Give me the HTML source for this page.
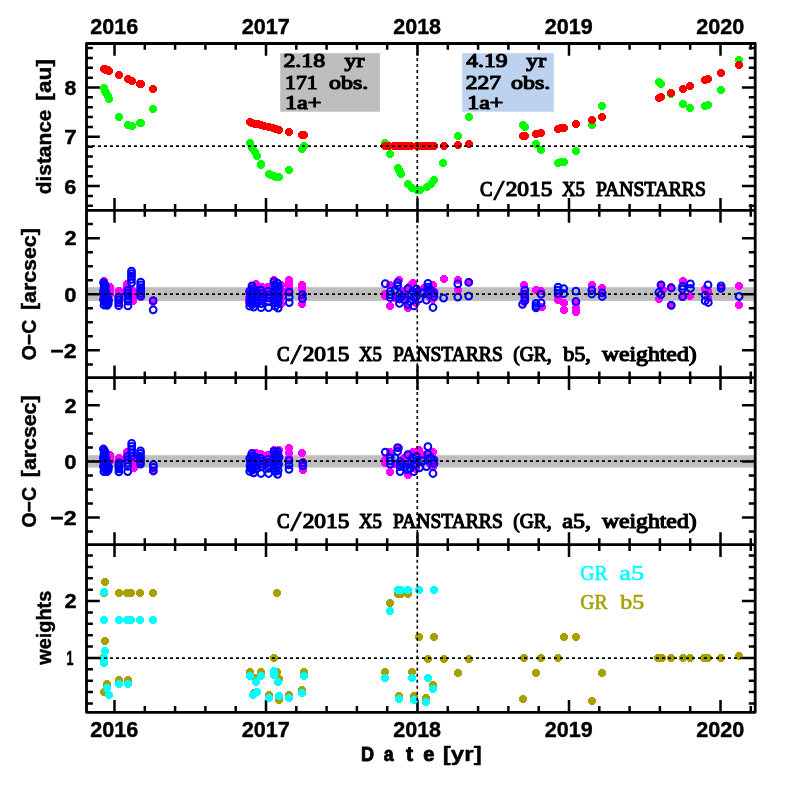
<!DOCTYPE html>
<html lang="en"><head><meta charset="utf-8"><title>C/2015 X5 PANSTARRS</title>
<style>html,body{margin:0;padding:0;background:#fff;overflow:hidden}svg{display:block}text{white-space:pre}.s{font-family:"Liberation Sans",sans-serif;font-weight:bold;fill:#000;stroke-linejoin:round}.r{font-family:"Liberation Serif",serif;font-weight:normal;fill:#000;stroke-linejoin:round}.m{font-family:"Liberation Mono",monospace;font-weight:bold;fill:#000}.l{font-family:"Liberation Serif",serif;font-weight:normal;stroke-linejoin:round}</style></head><body>
<svg width="797" height="797" viewBox="0 0 797 797">
<rect width="797" height="797" fill="#fff"/>
<rect x="86.5" y="287.2" width="668.7" height="13.7" fill="#bebebe"/>
<rect x="86.5" y="455.2" width="668.7" height="12.3" fill="#bebebe"/>
<rect x="280.2" y="53.2" width="99.7" height="58.5" fill="#bebebe"/>
<rect x="462.2" y="53.2" width="91.6" height="58.5" fill="#bcd2ee"/>
<path d="M86.5 43.5H755.2V210.35H86.5ZM86.5 210.35H755.2V377.7H86.5ZM86.5 377.7H755.2V544.6H86.5ZM86.5 544.6H755.2V712.3H86.5Z" fill="none" stroke="#000" stroke-width="2.8" stroke-linejoin="round"/>
<path d="M114.5 43.5v12.3M114.5 210.35v-12.3M114.5 210.35v12.3M114.5 377.7v-12.3M114.5 377.7v12.3M114.5 544.6v-12.3M114.5 544.6v12.3M114.5 712.3v-12.3M144.8 43.5v6.3M144.8 210.35v-6.3M144.8 210.35v6.3M144.8 377.7v-6.3M144.8 377.7v6.3M144.8 544.6v-6.3M144.8 544.6v6.3M144.8 712.3v-6.3M175.1 43.5v6.3M175.1 210.35v-6.3M175.1 210.35v6.3M175.1 377.7v-6.3M175.1 377.7v6.3M175.1 544.6v-6.3M175.1 544.6v6.3M175.1 712.3v-6.3M205.4 43.5v6.3M205.4 210.35v-6.3M205.4 210.35v6.3M205.4 377.7v-6.3M205.4 377.7v6.3M205.4 544.6v-6.3M205.4 544.6v6.3M205.4 712.3v-6.3M235.7 43.5v6.3M235.7 210.35v-6.3M235.7 210.35v6.3M235.7 377.7v-6.3M235.7 377.7v6.3M235.7 544.6v-6.3M235.7 544.6v6.3M235.7 712.3v-6.3M266 43.5v12.3M266 210.35v-12.3M266 210.35v12.3M266 377.7v-12.3M266 377.7v12.3M266 544.6v-12.3M266 544.6v12.3M266 712.3v-12.3M296.3 43.5v6.3M296.3 210.35v-6.3M296.3 210.35v6.3M296.3 377.7v-6.3M296.3 377.7v6.3M296.3 544.6v-6.3M296.3 544.6v6.3M296.3 712.3v-6.3M326.6 43.5v6.3M326.6 210.35v-6.3M326.6 210.35v6.3M326.6 377.7v-6.3M326.6 377.7v6.3M326.6 544.6v-6.3M326.6 544.6v6.3M326.6 712.3v-6.3M356.9 43.5v6.3M356.9 210.35v-6.3M356.9 210.35v6.3M356.9 377.7v-6.3M356.9 377.7v6.3M356.9 544.6v-6.3M356.9 544.6v6.3M356.9 712.3v-6.3M387.2 43.5v6.3M387.2 210.35v-6.3M387.2 210.35v6.3M387.2 377.7v-6.3M387.2 377.7v6.3M387.2 544.6v-6.3M387.2 544.6v6.3M387.2 712.3v-6.3M417.5 43.5v12.3M417.5 210.35v-12.3M417.5 210.35v12.3M417.5 377.7v-12.3M417.5 377.7v12.3M417.5 544.6v-12.3M417.5 544.6v12.3M417.5 712.3v-12.3M447.8 43.5v6.3M447.8 210.35v-6.3M447.8 210.35v6.3M447.8 377.7v-6.3M447.8 377.7v6.3M447.8 544.6v-6.3M447.8 544.6v6.3M447.8 712.3v-6.3M478.1 43.5v6.3M478.1 210.35v-6.3M478.1 210.35v6.3M478.1 377.7v-6.3M478.1 377.7v6.3M478.1 544.6v-6.3M478.1 544.6v6.3M478.1 712.3v-6.3M508.4 43.5v6.3M508.4 210.35v-6.3M508.4 210.35v6.3M508.4 377.7v-6.3M508.4 377.7v6.3M508.4 544.6v-6.3M508.4 544.6v6.3M508.4 712.3v-6.3M538.7 43.5v6.3M538.7 210.35v-6.3M538.7 210.35v6.3M538.7 377.7v-6.3M538.7 377.7v6.3M538.7 544.6v-6.3M538.7 544.6v6.3M538.7 712.3v-6.3M569 43.5v12.3M569 210.35v-12.3M569 210.35v12.3M569 377.7v-12.3M569 377.7v12.3M569 544.6v-12.3M569 544.6v12.3M569 712.3v-12.3M599.3 43.5v6.3M599.3 210.35v-6.3M599.3 210.35v6.3M599.3 377.7v-6.3M599.3 377.7v6.3M599.3 544.6v-6.3M599.3 544.6v6.3M599.3 712.3v-6.3M629.6 43.5v6.3M629.6 210.35v-6.3M629.6 210.35v6.3M629.6 377.7v-6.3M629.6 377.7v6.3M629.6 544.6v-6.3M629.6 544.6v6.3M629.6 712.3v-6.3M659.9 43.5v6.3M659.9 210.35v-6.3M659.9 210.35v6.3M659.9 377.7v-6.3M659.9 377.7v6.3M659.9 544.6v-6.3M659.9 544.6v6.3M659.9 712.3v-6.3M690.2 43.5v6.3M690.2 210.35v-6.3M690.2 210.35v6.3M690.2 377.7v-6.3M690.2 377.7v6.3M690.2 544.6v-6.3M690.2 544.6v6.3M690.2 712.3v-6.3M720.5 43.5v12.3M720.5 210.35v-12.3M720.5 210.35v12.3M720.5 377.7v-12.3M720.5 377.7v12.3M720.5 544.6v-12.3M720.5 544.6v12.3M720.5 712.3v-12.3M750.8 43.5v6.3M750.8 210.35v-6.3M750.8 210.35v6.3M750.8 377.7v-6.3M750.8 377.7v6.3M750.8 544.6v-6.3M750.8 544.6v6.3M750.8 712.3v-6.3M86.5 205.82h6.4M755.2 205.82h-6.4M86.5 195.96h6.4M755.2 195.96h-6.4M86.5 186.1h13.3M755.2 186.1h-13.3M86.5 176.24h6.4M755.2 176.24h-6.4M86.5 166.38h6.4M755.2 166.38h-6.4M86.5 156.52h6.4M755.2 156.52h-6.4M86.5 146.66h6.4M755.2 146.66h-6.4M86.5 136.8h13.3M755.2 136.8h-13.3M86.5 126.94h6.4M755.2 126.94h-6.4M86.5 117.08h6.4M755.2 117.08h-6.4M86.5 107.22h6.4M755.2 107.22h-6.4M86.5 97.36h6.4M755.2 97.36h-6.4M86.5 87.5h13.3M755.2 87.5h-13.3M86.5 77.64h6.4M755.2 77.64h-6.4M86.5 67.78h6.4M755.2 67.78h-6.4M86.5 57.92h6.4M755.2 57.92h-6.4M86.5 48.06h6.4M755.2 48.06h-6.4M86.5 364.38h6.4M755.2 364.38h-6.4M86.5 350.35h13.3M755.2 350.35h-13.3M86.5 336.32h6.4M755.2 336.32h-6.4M86.5 322.3h6.4M755.2 322.3h-6.4M86.5 308.27h6.4M755.2 308.27h-6.4M86.5 294.25h13.3M755.2 294.25h-13.3M86.5 280.23h6.4M755.2 280.23h-6.4M86.5 266.2h6.4M755.2 266.2h-6.4M86.5 252.18h6.4M755.2 252.18h-6.4M86.5 238.15h13.3M755.2 238.15h-13.3M86.5 224.12h6.4M755.2 224.12h-6.4M86.5 531.58h6.4M755.2 531.58h-6.4M86.5 517.55h13.3M755.2 517.55h-13.3M86.5 503.52h6.4M755.2 503.52h-6.4M86.5 489.5h6.4M755.2 489.5h-6.4M86.5 475.47h6.4M755.2 475.47h-6.4M86.5 461.45h13.3M755.2 461.45h-13.3M86.5 447.43h6.4M755.2 447.43h-6.4M86.5 433.4h6.4M755.2 433.4h-6.4M86.5 419.38h6.4M755.2 419.38h-6.4M86.5 405.35h13.3M755.2 405.35h-13.3M86.5 391.32h6.4M755.2 391.32h-6.4M86.5 703.38h6.4M755.2 703.38h-6.4M86.5 692.01h6.4M755.2 692.01h-6.4M86.5 680.64h6.4M755.2 680.64h-6.4M86.5 669.27h6.4M755.2 669.27h-6.4M86.5 657.9h13.3M755.2 657.9h-13.3M86.5 646.53h6.4M755.2 646.53h-6.4M86.5 635.16h6.4M755.2 635.16h-6.4M86.5 623.79h6.4M755.2 623.79h-6.4M86.5 612.42h6.4M755.2 612.42h-6.4M86.5 601.05h13.3M755.2 601.05h-13.3M86.5 589.68h6.4M755.2 589.68h-6.4M86.5 578.31h6.4M755.2 578.31h-6.4M86.5 566.94h6.4M755.2 566.94h-6.4M86.5 555.57h6.4M755.2 555.57h-6.4" fill="none" stroke="#000" stroke-width="2.5"/>
<g fill="#00ff00" shape-rendering="crispEdges"><circle cx="561" cy="162" r="4.0"/><circle cx="141" cy="123" r="4.0"/><circle cx="261" cy="165" r="4.0"/><circle cx="271" cy="175" r="4.0"/><circle cx="276" cy="177" r="4.0"/><circle cx="104" cy="88" r="4.0"/><circle cx="105" cy="91" r="4.0"/><circle cx="106" cy="93" r="4.0"/><circle cx="108" cy="96" r="4.0"/><circle cx="109" cy="99" r="4.0"/><circle cx="119" cy="117" r="4.0"/><circle cx="128" cy="125" r="4.0"/><circle cx="132" cy="126" r="4.0"/><circle cx="140" cy="123" r="4.0"/><circle cx="153" cy="109" r="4.0"/><circle cx="250" cy="143" r="4.0"/><circle cx="252" cy="148" r="4.0"/><circle cx="255" cy="152" r="4.0"/><circle cx="257" cy="156" r="4.0"/><circle cx="261" cy="164" r="4.0"/><circle cx="269" cy="174" r="4.0"/><circle cx="274" cy="176" r="4.0"/><circle cx="279" cy="177" r="4.0"/><circle cx="289" cy="170" r="4.0"/><circle cx="302" cy="149" r="4.0"/><circle cx="304" cy="146" r="4.0"/><circle cx="385" cy="143" r="4.0"/><circle cx="390" cy="154" r="4.0"/><circle cx="398" cy="168" r="4.0"/><circle cx="399" cy="170" r="4.0"/><circle cx="400" cy="172" r="4.0"/><circle cx="401" cy="174" r="4.0"/><circle cx="408" cy="184" r="4.0"/><circle cx="412" cy="188" r="4.0"/><circle cx="417" cy="190" r="4.0"/><circle cx="420" cy="190" r="4.0"/><circle cx="427" cy="187" r="4.0"/><circle cx="431" cy="184" r="4.0"/><circle cx="434" cy="180" r="4.0"/><circle cx="443" cy="163" r="4.0"/><circle cx="458" cy="136" r="4.0"/><circle cx="469" cy="117" r="4.0"/><circle cx="523" cy="125" r="4.0"/><circle cx="525" cy="127" r="4.0"/><circle cx="536" cy="144" r="4.0"/><circle cx="541" cy="150" r="4.0"/><circle cx="558" cy="163" r="4.0"/><circle cx="564" cy="162" r="4.0"/><circle cx="576" cy="151" r="4.0"/><circle cx="592" cy="125" r="4.0"/><circle cx="602" cy="106" r="4.0"/><circle cx="659" cy="82" r="4.0"/><circle cx="661" cy="84" r="4.0"/><circle cx="671" cy="94" r="4.0"/><circle cx="683" cy="104" r="4.0"/><circle cx="690" cy="108" r="4.0"/><circle cx="705" cy="106" r="4.0"/><circle cx="708" cy="105" r="4.0"/><circle cx="721" cy="90" r="4.0"/><circle cx="739" cy="60" r="4.0"/></g>
<g fill="#ff0000" shape-rendering="crispEdges"><circle cx="561" cy="128" r="4.0"/><circle cx="394" cy="146" r="4.0"/><circle cx="404" cy="146" r="4.0"/><circle cx="424" cy="146" r="4.0"/><circle cx="141" cy="84" r="4.0"/><circle cx="264" cy="126" r="4.0"/><circle cx="276" cy="129" r="4.0"/><circle cx="104" cy="69" r="4.0"/><circle cx="105" cy="69" r="4.0"/><circle cx="106" cy="70" r="4.0"/><circle cx="108" cy="70" r="4.0"/><circle cx="109" cy="71" r="4.0"/><circle cx="119" cy="75" r="4.0"/><circle cx="128" cy="79" r="4.0"/><circle cx="132" cy="81" r="4.0"/><circle cx="140" cy="84" r="4.0"/><circle cx="153" cy="89" r="4.0"/><circle cx="250" cy="122" r="4.0"/><circle cx="252" cy="123" r="4.0"/><circle cx="255" cy="124" r="4.0"/><circle cx="258" cy="124" r="4.0"/><circle cx="261" cy="125" r="4.0"/><circle cx="269" cy="127" r="4.0"/><circle cx="273" cy="128" r="4.0"/><circle cx="279" cy="130" r="4.0"/><circle cx="289" cy="132" r="4.0"/><circle cx="302" cy="135" r="4.0"/><circle cx="304" cy="135" r="4.0"/><circle cx="385" cy="146" r="4.0"/><circle cx="389" cy="146" r="4.0"/><circle cx="398" cy="146" r="4.0"/><circle cx="401" cy="146" r="4.0"/><circle cx="408" cy="146" r="4.0"/><circle cx="411" cy="146" r="4.0"/><circle cx="417" cy="146" r="4.0"/><circle cx="420" cy="146" r="4.0"/><circle cx="427" cy="146" r="4.0"/><circle cx="431" cy="146" r="4.0"/><circle cx="434" cy="146" r="4.0"/><circle cx="444" cy="146" r="4.0"/><circle cx="458" cy="145" r="4.0"/><circle cx="469" cy="144" r="4.0"/><circle cx="523" cy="136" r="4.0"/><circle cx="525" cy="136" r="4.0"/><circle cx="536" cy="134" r="4.0"/><circle cx="541" cy="133" r="4.0"/><circle cx="558" cy="129" r="4.0"/><circle cx="564" cy="128" r="4.0"/><circle cx="576" cy="124" r="4.0"/><circle cx="592" cy="120" r="4.0"/><circle cx="602" cy="117" r="4.0"/><circle cx="659" cy="98" r="4.0"/><circle cx="661" cy="97" r="4.0"/><circle cx="671" cy="93" r="4.0"/><circle cx="683" cy="89" r="4.0"/><circle cx="690" cy="86" r="4.0"/><circle cx="705" cy="80" r="4.0"/><circle cx="708" cy="79" r="4.0"/><circle cx="721" cy="73" r="4.0"/><circle cx="739" cy="65" r="4.0"/></g>
<g fill="#ff00ff" shape-rendering="crispEdges"><circle cx="104" cy="281" r="4.0"/><circle cx="105" cy="284" r="4.0"/><circle cx="105" cy="288" r="4.0"/><circle cx="104" cy="292" r="4.0"/><circle cx="105" cy="295" r="4.0"/><circle cx="104" cy="299" r="4.0"/><circle cx="105" cy="302" r="4.0"/><circle cx="110" cy="287" r="4.0"/><circle cx="110" cy="290" r="4.0"/><circle cx="110" cy="294" r="4.0"/><circle cx="119" cy="291" r="4.0"/><circle cx="119" cy="295" r="4.0"/><circle cx="119" cy="299" r="4.0"/><circle cx="119" cy="303" r="4.0"/><circle cx="127" cy="284" r="4.0"/><circle cx="127" cy="287" r="4.0"/><circle cx="127" cy="291" r="4.0"/><circle cx="133" cy="291" r="4.0"/><circle cx="133" cy="294" r="4.0"/><circle cx="133" cy="297" r="4.0"/><circle cx="133" cy="301" r="4.0"/><circle cx="141" cy="288" r="4.0"/><circle cx="141" cy="291" r="4.0"/><circle cx="141" cy="294" r="4.0"/><circle cx="141" cy="297" r="4.0"/><circle cx="153" cy="302" r="4.0"/></g>
<g fill="none" stroke="#0000ff" stroke-width="2.0"><circle cx="103.5" cy="282.6" r="3.4"/><circle cx="104.5" cy="284.3" r="3.4"/><circle cx="105.5" cy="286" r="3.4"/><circle cx="104" cy="287.8" r="3.4"/><circle cx="105" cy="289.5" r="3.4"/><circle cx="103.5" cy="291.2" r="3.4"/><circle cx="104.5" cy="292.9" r="3.4"/><circle cx="105.5" cy="294.7" r="3.4"/><circle cx="104" cy="296.4" r="3.4"/><circle cx="105" cy="298.1" r="3.4"/><circle cx="103.5" cy="299.8" r="3.4"/><circle cx="104.5" cy="301.6" r="3.4"/><circle cx="105.5" cy="303.3" r="3.4"/><circle cx="104" cy="305" r="3.4"/><circle cx="107" cy="297.1" r="3.4"/><circle cx="107.8" cy="298.8" r="3.4"/><circle cx="108.6" cy="300.4" r="3.4"/><circle cx="107.4" cy="302.1" r="3.4"/><circle cx="108.2" cy="303.7" r="3.4"/><circle cx="107" cy="305.4" r="3.4"/><circle cx="105.8" cy="291.1" r="3.4"/><circle cx="106.3" cy="294.1" r="3.4"/><circle cx="106.8" cy="297.1" r="3.4"/><circle cx="118.7" cy="297.1" r="3.4"/><circle cx="118.7" cy="300" r="3.4"/><circle cx="118.7" cy="302.8" r="3.4"/><circle cx="118.7" cy="305.7" r="3.4"/><circle cx="127.9" cy="290.1" r="3.4"/><circle cx="127.9" cy="292.9" r="3.4"/><circle cx="127.9" cy="295.6" r="3.4"/><circle cx="127.9" cy="298.4" r="3.4"/><circle cx="127.9" cy="301.1" r="3.4"/><circle cx="127.9" cy="305.9" r="3.4"/><circle cx="131.5" cy="271.2" r="3.4"/><circle cx="131.5" cy="273.7" r="3.4"/><circle cx="131.5" cy="276.2" r="3.4"/><circle cx="131.5" cy="279.3" r="3.4"/><circle cx="131.5" cy="282.8" r="3.4"/><circle cx="140.7" cy="282.1" r="3.4"/><circle cx="140.7" cy="284.9" r="3.4"/><circle cx="140.7" cy="287.7" r="3.4"/><circle cx="140.7" cy="290.6" r="3.4"/><circle cx="140.7" cy="293.4" r="3.4"/><circle cx="140.7" cy="296.2" r="3.4"/><circle cx="153.2" cy="300.6" r="3.4"/><circle cx="153.2" cy="309.8" r="3.4"/></g>
<g fill="#ff00ff" shape-rendering="crispEdges"><circle cx="249" cy="293" r="4.0"/><circle cx="249" cy="298" r="4.0"/><circle cx="249" cy="302" r="4.0"/><circle cx="252" cy="286" r="4.0"/><circle cx="252" cy="291" r="4.0"/><circle cx="252" cy="296" r="4.0"/><circle cx="252" cy="300" r="4.0"/><circle cx="252" cy="305" r="4.0"/><circle cx="256" cy="284" r="4.0"/><circle cx="256" cy="289" r="4.0"/><circle cx="256" cy="293" r="4.0"/><circle cx="256" cy="298" r="4.0"/><circle cx="256" cy="302" r="4.0"/><circle cx="262" cy="287" r="4.0"/><circle cx="262" cy="291" r="4.0"/><circle cx="262" cy="296" r="4.0"/><circle cx="262" cy="301" r="4.0"/><circle cx="268" cy="287" r="4.0"/><circle cx="268" cy="291" r="4.0"/><circle cx="268" cy="294" r="4.0"/><circle cx="268" cy="298" r="4.0"/><circle cx="274" cy="280" r="4.0"/><circle cx="274" cy="284" r="4.0"/><circle cx="274" cy="288" r="4.0"/><circle cx="274" cy="293" r="4.0"/><circle cx="274" cy="297" r="4.0"/><circle cx="281" cy="285" r="4.0"/><circle cx="281" cy="290" r="4.0"/><circle cx="281" cy="294" r="4.0"/><circle cx="281" cy="299" r="4.0"/><circle cx="281" cy="304" r="4.0"/><circle cx="289" cy="280" r="4.0"/><circle cx="289" cy="284" r="4.0"/><circle cx="289" cy="288" r="4.0"/><circle cx="289" cy="292" r="4.0"/><circle cx="302" cy="285" r="4.0"/><circle cx="302" cy="289" r="4.0"/><circle cx="302" cy="294" r="4.0"/><circle cx="302" cy="298" r="4.0"/><circle cx="302" cy="304" r="4.0"/></g>
<g fill="none" stroke="#0000ff" stroke-width="2.0"><circle cx="249.7" cy="291.1" r="3.4"/><circle cx="250.3" cy="294.1" r="3.4"/><circle cx="250.9" cy="297.1" r="3.4"/><circle cx="250" cy="300.1" r="3.4"/><circle cx="250.6" cy="303.1" r="3.4"/><circle cx="249.7" cy="306.1" r="3.4"/><circle cx="252" cy="285.8" r="3.4"/><circle cx="252.8" cy="288.8" r="3.4"/><circle cx="253.6" cy="291.9" r="3.4"/><circle cx="252.4" cy="294.9" r="3.4"/><circle cx="253.2" cy="298" r="3.4"/><circle cx="252" cy="301" r="3.4"/><circle cx="252.8" cy="304.1" r="3.4"/><circle cx="253.6" cy="307.1" r="3.4"/><circle cx="255.7" cy="290.1" r="3.4"/><circle cx="256.5" cy="293.4" r="3.4"/><circle cx="257.3" cy="296.6" r="3.4"/><circle cx="256.1" cy="299.9" r="3.4"/><circle cx="256.9" cy="303.1" r="3.4"/><circle cx="260.7" cy="290.1" r="3.4"/><circle cx="261.3" cy="293.3" r="3.4"/><circle cx="261.9" cy="296.4" r="3.4"/><circle cx="261" cy="299.6" r="3.4"/><circle cx="261.1" cy="303.6" r="3.4"/><circle cx="261.1" cy="307.7" r="3.4"/><circle cx="268" cy="291.1" r="3.4"/><circle cx="268.6" cy="294.6" r="3.4"/><circle cx="269.2" cy="298.1" r="3.4"/><circle cx="268.6" cy="301.6" r="3.4"/><circle cx="268.6" cy="307.7" r="3.4"/><circle cx="273.9" cy="281.6" r="3.4"/><circle cx="274.7" cy="285.1" r="3.4"/><circle cx="275.5" cy="288.6" r="3.4"/><circle cx="274.3" cy="292.1" r="3.4"/><circle cx="275.1" cy="295.6" r="3.4"/><circle cx="273.9" cy="299.1" r="3.4"/><circle cx="274.7" cy="302.6" r="3.4"/><circle cx="275.5" cy="306.1" r="3.4"/><circle cx="277.4" cy="283.1" r="3.4"/><circle cx="278.2" cy="286.4" r="3.4"/><circle cx="279" cy="289.8" r="3.4"/><circle cx="277.8" cy="293.1" r="3.4"/><circle cx="278.6" cy="296.4" r="3.4"/><circle cx="277.4" cy="299.8" r="3.4"/><circle cx="278.2" cy="303.1" r="3.4"/><circle cx="278.2" cy="308.1" r="3.4"/><circle cx="289.2" cy="292.1" r="3.4"/><circle cx="289.2" cy="297.1" r="3.4"/><circle cx="289.2" cy="302.6" r="3.4"/><circle cx="302.5" cy="294.6" r="3.4"/><circle cx="302.5" cy="298.6" r="3.4"/></g>
<g fill="#ff00ff" shape-rendering="crispEdges"><circle cx="385" cy="294" r="4.0"/><circle cx="385" cy="296" r="4.0"/><circle cx="390" cy="285" r="4.0"/><circle cx="390" cy="306" r="4.0"/><circle cx="399" cy="280" r="4.0"/><circle cx="400" cy="298" r="4.0"/><circle cx="408" cy="308" r="4.0"/><circle cx="413" cy="283" r="4.0"/><circle cx="419" cy="290" r="4.0"/><circle cx="406" cy="298" r="4.0"/><circle cx="428" cy="289" r="4.0"/><circle cx="433" cy="285" r="4.0"/><circle cx="433" cy="299" r="4.0"/><circle cx="434" cy="291" r="4.0"/><circle cx="444" cy="279" r="4.0"/><circle cx="458" cy="280" r="4.0"/><circle cx="458" cy="290" r="4.0"/><circle cx="469" cy="282" r="4.0"/><circle cx="395" cy="298" r="4.0"/><circle cx="404" cy="291" r="4.0"/><circle cx="410" cy="286" r="4.0"/><circle cx="416" cy="303" r="4.0"/><circle cx="424" cy="288" r="4.0"/><circle cx="430" cy="298" r="4.0"/></g>
<g fill="none" stroke="#0000ff" stroke-width="2.0"><circle cx="395.1" cy="290.2" r="3.4"/><circle cx="402" cy="296.5" r="3.4"/><circle cx="405.1" cy="300.2" r="3.4"/><circle cx="410.1" cy="301.5" r="3.4"/><circle cx="416.4" cy="289" r="3.4"/><circle cx="416.4" cy="296.5" r="3.4"/><circle cx="423.3" cy="292.7" r="3.4"/><circle cx="427.7" cy="291.5" r="3.4"/><circle cx="430.8" cy="290.2" r="3.4"/><circle cx="434" cy="296.5" r="3.4"/><circle cx="385.3" cy="283.7" r="3.4"/><circle cx="390.3" cy="291.5" r="3.4"/><circle cx="390.3" cy="294.6" r="3.4"/><circle cx="390.3" cy="297.7" r="3.4"/><circle cx="397.6" cy="282.7" r="3.4"/><circle cx="397.6" cy="285.8" r="3.4"/><circle cx="399.5" cy="294" r="3.4"/><circle cx="399.5" cy="299" r="3.4"/><circle cx="399.5" cy="303.4" r="3.4"/><circle cx="407.9" cy="288.7" r="3.4"/><circle cx="407.9" cy="304.6" r="3.4"/><circle cx="411.4" cy="294.6" r="3.4"/><circle cx="412.6" cy="291.5" r="3.4"/><circle cx="413.9" cy="297.7" r="3.4"/><circle cx="413.9" cy="305.9" r="3.4"/><circle cx="417" cy="292.7" r="3.4"/><circle cx="419.5" cy="299" r="3.4"/><circle cx="426.4" cy="300.2" r="3.4"/><circle cx="427.9" cy="283.3" r="3.4"/><circle cx="427.9" cy="287.1" r="3.4"/><circle cx="433" cy="307.5" r="3.4"/><circle cx="434" cy="293.3" r="3.4"/><circle cx="443.6" cy="298.1" r="3.4"/><circle cx="457.8" cy="283.9" r="3.4"/><circle cx="457.8" cy="297.1" r="3.4"/><circle cx="468.7" cy="282.4" r="3.4"/><circle cx="468.7" cy="296.1" r="3.4"/></g>
<g fill="#ff00ff" shape-rendering="crispEdges"><circle cx="524" cy="285" r="4.0"/><circle cx="523" cy="294" r="4.0"/><circle cx="524" cy="302" r="4.0"/><circle cx="536" cy="290" r="4.0"/><circle cx="541" cy="291" r="4.0"/><circle cx="542" cy="307" r="4.0"/><circle cx="558" cy="296" r="4.0"/><circle cx="558" cy="300" r="4.0"/><circle cx="564" cy="303" r="4.0"/><circle cx="564" cy="310" r="4.0"/><circle cx="576" cy="303" r="4.0"/><circle cx="576" cy="308" r="4.0"/><circle cx="576" cy="312" r="4.0"/><circle cx="592" cy="285" r="4.0"/><circle cx="602" cy="288" r="4.0"/><circle cx="602" cy="293" r="4.0"/></g>
<g fill="none" stroke="#0000ff" stroke-width="2.0"><circle cx="522.5" cy="304.3" r="3.4"/><circle cx="524.8" cy="290.2" r="3.4"/><circle cx="524.8" cy="294" r="3.4"/><circle cx="524.8" cy="297.7" r="3.4"/><circle cx="524.8" cy="300.9" r="3.4"/><circle cx="536" cy="303.4" r="3.4"/><circle cx="536" cy="305.9" r="3.4"/><circle cx="536" cy="307.8" r="3.4"/><circle cx="541.1" cy="294.2" r="3.4"/><circle cx="541.1" cy="302.8" r="3.4"/><circle cx="558.1" cy="287.1" r="3.4"/><circle cx="558.1" cy="290.2" r="3.4"/><circle cx="558.1" cy="293.7" r="3.4"/><circle cx="563.7" cy="288.7" r="3.4"/><circle cx="563.7" cy="293.7" r="3.4"/><circle cx="575.9" cy="291.2" r="3.4"/><circle cx="575.9" cy="301.5" r="3.4"/><circle cx="591.8" cy="290.2" r="3.4"/><circle cx="591.8" cy="294" r="3.4"/><circle cx="602.2" cy="293" r="3.4"/><circle cx="602.2" cy="296.5" r="3.4"/></g>
<g fill="#ff00ff" shape-rendering="crispEdges"><circle cx="661" cy="285" r="4.0"/><circle cx="659" cy="299" r="4.0"/><circle cx="663" cy="290" r="4.0"/><circle cx="671" cy="287" r="4.0"/><circle cx="671" cy="305" r="4.0"/><circle cx="683" cy="281" r="4.0"/><circle cx="683" cy="296" r="4.0"/><circle cx="690" cy="296" r="4.0"/><circle cx="705" cy="289" r="4.0"/><circle cx="708" cy="291" r="4.0"/><circle cx="708" cy="298" r="4.0"/><circle cx="721" cy="288" r="4.0"/><circle cx="739" cy="286" r="4.0"/><circle cx="739" cy="305" r="4.0"/></g>
<g fill="none" stroke="#0000ff" stroke-width="2.0"><circle cx="661" cy="284.9" r="3.4"/><circle cx="658.8" cy="292.5" r="3.4"/><circle cx="661" cy="294.6" r="3.4"/><circle cx="671.3" cy="288" r="3.4"/><circle cx="671.3" cy="305.3" r="3.4"/><circle cx="682.6" cy="286.4" r="3.4"/><circle cx="682.6" cy="289.2" r="3.4"/><circle cx="682.6" cy="296.7" r="3.4"/><circle cx="690.4" cy="283.9" r="3.4"/><circle cx="690.4" cy="288.3" r="3.4"/><circle cx="708" cy="284.9" r="3.4"/><circle cx="705.2" cy="295.2" r="3.4"/><circle cx="705.2" cy="300.9" r="3.4"/><circle cx="708.3" cy="302.5" r="3.4"/><circle cx="721.1" cy="285.8" r="3.4"/><circle cx="721.1" cy="288.3" r="3.4"/><circle cx="739.1" cy="296.5" r="3.4"/></g>
<g fill="#ff00ff" shape-rendering="crispEdges"><circle cx="104" cy="450" r="4.0"/><circle cx="104" cy="453" r="4.0"/><circle cx="105" cy="456" r="4.0"/><circle cx="104" cy="459" r="4.0"/><circle cx="105" cy="462" r="4.0"/><circle cx="104" cy="465" r="4.0"/><circle cx="104" cy="468" r="4.0"/><circle cx="110" cy="455" r="4.0"/><circle cx="110" cy="458" r="4.0"/><circle cx="110" cy="461" r="4.0"/><circle cx="119" cy="458" r="4.0"/><circle cx="119" cy="462" r="4.0"/><circle cx="119" cy="465" r="4.0"/><circle cx="119" cy="469" r="4.0"/><circle cx="127" cy="452" r="4.0"/><circle cx="127" cy="456" r="4.0"/><circle cx="127" cy="459" r="4.0"/><circle cx="134" cy="458" r="4.0"/><circle cx="134" cy="461" r="4.0"/><circle cx="134" cy="464" r="4.0"/><circle cx="134" cy="468" r="4.0"/><circle cx="140" cy="457" r="4.0"/><circle cx="140" cy="461" r="4.0"/><circle cx="140" cy="464" r="4.0"/><circle cx="153" cy="471" r="4.0"/></g>
<g fill="none" stroke="#0000ff" stroke-width="2.0"><circle cx="103.4" cy="449" r="3.4"/><circle cx="104.4" cy="450.7" r="3.4"/><circle cx="105.4" cy="452.5" r="3.4"/><circle cx="103.9" cy="454.2" r="3.4"/><circle cx="104.9" cy="456" r="3.4"/><circle cx="103.4" cy="457.7" r="3.4"/><circle cx="104.4" cy="459.4" r="3.4"/><circle cx="105.4" cy="461.2" r="3.4"/><circle cx="103.9" cy="462.9" r="3.4"/><circle cx="104.9" cy="464.6" r="3.4"/><circle cx="103.4" cy="466.4" r="3.4"/><circle cx="104.4" cy="468.1" r="3.4"/><circle cx="105.4" cy="469.9" r="3.4"/><circle cx="103.9" cy="471.6" r="3.4"/><circle cx="107" cy="464.1" r="3.4"/><circle cx="107.8" cy="465.6" r="3.4"/><circle cx="108.6" cy="467.1" r="3.4"/><circle cx="107.4" cy="468.6" r="3.4"/><circle cx="108.2" cy="470.1" r="3.4"/><circle cx="107" cy="471.6" r="3.4"/><circle cx="105.8" cy="458.3" r="3.4"/><circle cx="106.3" cy="461.3" r="3.4"/><circle cx="106.8" cy="464.3" r="3.4"/><circle cx="118.9" cy="462.8" r="3.4"/><circle cx="118.9" cy="464.8" r="3.4"/><circle cx="118.9" cy="466.8" r="3.4"/><circle cx="118.9" cy="468.8" r="3.4"/><circle cx="118.9" cy="471.8" r="3.4"/><circle cx="127.7" cy="456.5" r="3.4"/><circle cx="127.7" cy="459.8" r="3.4"/><circle cx="127.7" cy="463" r="3.4"/><circle cx="127.7" cy="466.3" r="3.4"/><circle cx="127.7" cy="471.6" r="3.4"/><circle cx="131.7" cy="443.4" r="3.4"/><circle cx="131.7" cy="446.3" r="3.4"/><circle cx="131.7" cy="449.3" r="3.4"/><circle cx="131.7" cy="452.8" r="3.4"/><circle cx="131.7" cy="456.5" r="3.4"/><circle cx="140.5" cy="450.9" r="3.4"/><circle cx="140.5" cy="453.5" r="3.4"/><circle cx="140.5" cy="456.2" r="3.4"/><circle cx="140.5" cy="458.8" r="3.4"/><circle cx="140.5" cy="461.5" r="3.4"/><circle cx="140.5" cy="464.1" r="3.4"/><circle cx="153.4" cy="464.7" r="3.4"/><circle cx="153.4" cy="467.3" r="3.4"/><circle cx="153.4" cy="471" r="3.4"/></g>
<g fill="#ff00ff" shape-rendering="crispEdges"><circle cx="251" cy="455" r="4.0"/><circle cx="251" cy="462" r="4.0"/><circle cx="251" cy="469" r="4.0"/><circle cx="256" cy="453" r="4.0"/><circle cx="257" cy="460" r="4.0"/><circle cx="261" cy="454" r="4.0"/><circle cx="261" cy="463" r="4.0"/><circle cx="268" cy="455" r="4.0"/><circle cx="268" cy="463" r="4.0"/><circle cx="274" cy="450" r="4.0"/><circle cx="274" cy="458" r="4.0"/><circle cx="279" cy="450" r="4.0"/><circle cx="279" cy="458" r="4.0"/><circle cx="289" cy="448" r="4.0"/><circle cx="289" cy="453" r="4.0"/><circle cx="289" cy="458" r="4.0"/><circle cx="302" cy="453" r="4.0"/><circle cx="303" cy="462" r="4.0"/><circle cx="303" cy="470" r="4.0"/></g>
<g fill="none" stroke="#0000ff" stroke-width="2.0"><circle cx="249.7" cy="458.3" r="3.4"/><circle cx="250.3" cy="460.9" r="3.4"/><circle cx="250.9" cy="463.5" r="3.4"/><circle cx="250" cy="466.1" r="3.4"/><circle cx="250.6" cy="468.7" r="3.4"/><circle cx="249.7" cy="471.3" r="3.4"/><circle cx="252" cy="453.3" r="3.4"/><circle cx="252.8" cy="456.1" r="3.4"/><circle cx="253.6" cy="458.9" r="3.4"/><circle cx="252.4" cy="461.7" r="3.4"/><circle cx="253.2" cy="464.4" r="3.4"/><circle cx="252" cy="467.2" r="3.4"/><circle cx="252.8" cy="470" r="3.4"/><circle cx="253.6" cy="472.8" r="3.4"/><circle cx="255.7" cy="457.3" r="3.4"/><circle cx="256.5" cy="460.1" r="3.4"/><circle cx="257.3" cy="462.8" r="3.4"/><circle cx="256.1" cy="465.6" r="3.4"/><circle cx="256.9" cy="468.3" r="3.4"/><circle cx="260.7" cy="458.3" r="3.4"/><circle cx="261.3" cy="461.1" r="3.4"/><circle cx="261.9" cy="464" r="3.4"/><circle cx="261" cy="466.8" r="3.4"/><circle cx="261.1" cy="473.5" r="3.4"/><circle cx="268" cy="459.3" r="3.4"/><circle cx="268.6" cy="462.3" r="3.4"/><circle cx="269.2" cy="465.3" r="3.4"/><circle cx="268.3" cy="468.3" r="3.4"/><circle cx="268.6" cy="473.5" r="3.4"/><circle cx="273.9" cy="451.3" r="3.4"/><circle cx="274.7" cy="454.2" r="3.4"/><circle cx="275.5" cy="457" r="3.4"/><circle cx="274.3" cy="459.9" r="3.4"/><circle cx="275.1" cy="462.7" r="3.4"/><circle cx="273.9" cy="465.6" r="3.4"/><circle cx="274.7" cy="468.4" r="3.4"/><circle cx="275.5" cy="471.3" r="3.4"/><circle cx="277.4" cy="451.3" r="3.4"/><circle cx="278.2" cy="454.5" r="3.4"/><circle cx="279" cy="457.6" r="3.4"/><circle cx="277.8" cy="460.8" r="3.4"/><circle cx="278.6" cy="464" r="3.4"/><circle cx="277.4" cy="467.1" r="3.4"/><circle cx="278.2" cy="470.3" r="3.4"/><circle cx="277.6" cy="474.3" r="3.4"/><circle cx="289" cy="460.3" r="3.4"/><circle cx="289" cy="464.8" r="3.4"/><circle cx="289" cy="469.3" r="3.4"/><circle cx="302.8" cy="462.8" r="3.4"/><circle cx="302.8" cy="465.8" r="3.4"/></g>
<g fill="#ff00ff" shape-rendering="crispEdges"><circle cx="385" cy="460" r="4.0"/><circle cx="385" cy="463" r="4.0"/><circle cx="390" cy="452" r="4.0"/><circle cx="390" cy="472" r="4.0"/><circle cx="399" cy="448" r="4.0"/><circle cx="400" cy="464" r="4.0"/><circle cx="408" cy="475" r="4.0"/><circle cx="413" cy="452" r="4.0"/><circle cx="419" cy="450" r="4.0"/><circle cx="419" cy="457" r="4.0"/><circle cx="406" cy="462" r="4.0"/><circle cx="428" cy="455" r="4.0"/><circle cx="433" cy="452" r="4.0"/><circle cx="433" cy="467" r="4.0"/><circle cx="434" cy="459" r="4.0"/><circle cx="395" cy="464" r="4.0"/><circle cx="404" cy="458" r="4.0"/><circle cx="410" cy="454" r="4.0"/><circle cx="416" cy="469" r="4.0"/><circle cx="424" cy="455" r="4.0"/><circle cx="430" cy="464" r="4.0"/></g>
<g fill="none" stroke="#0000ff" stroke-width="2.0"><circle cx="395.1" cy="457.8" r="3.4"/><circle cx="402" cy="464.1" r="3.4"/><circle cx="405.1" cy="467.2" r="3.4"/><circle cx="410.1" cy="468.5" r="3.4"/><circle cx="416.4" cy="456.5" r="3.4"/><circle cx="416.4" cy="464.1" r="3.4"/><circle cx="423.3" cy="460.3" r="3.4"/><circle cx="427.7" cy="459" r="3.4"/><circle cx="430.8" cy="457.8" r="3.4"/><circle cx="434" cy="463.4" r="3.4"/><circle cx="385.3" cy="452.1" r="3.4"/><circle cx="390.3" cy="457.8" r="3.4"/><circle cx="390.3" cy="460.9" r="3.4"/><circle cx="390.3" cy="464.1" r="3.4"/><circle cx="397.6" cy="447.7" r="3.4"/><circle cx="397.6" cy="451.5" r="3.4"/><circle cx="400.1" cy="461.6" r="3.4"/><circle cx="400.1" cy="466.6" r="3.4"/><circle cx="400.1" cy="471.6" r="3.4"/><circle cx="407.9" cy="454.7" r="3.4"/><circle cx="407.4" cy="469.7" r="3.4"/><circle cx="411.4" cy="461.6" r="3.4"/><circle cx="412.6" cy="457.8" r="3.4"/><circle cx="413.9" cy="464.7" r="3.4"/><circle cx="413.9" cy="471.6" r="3.4"/><circle cx="417" cy="460.3" r="3.4"/><circle cx="419.5" cy="467.8" r="3.4"/><circle cx="426.4" cy="466.6" r="3.4"/><circle cx="427.9" cy="446.7" r="3.4"/><circle cx="427.9" cy="454" r="3.4"/><circle cx="433" cy="473.5" r="3.4"/><circle cx="434" cy="460.5" r="3.4"/></g>
<g fill="#a8a000" shape-rendering="crispEdges"><circle cx="105" cy="582" r="4.0"/><circle cx="104" cy="593" r="4.0"/><circle cx="119" cy="593" r="4.0"/><circle cx="127" cy="593" r="4.0"/><circle cx="131" cy="593" r="4.0"/><circle cx="140" cy="593" r="4.0"/><circle cx="153" cy="593" r="4.0"/><circle cx="105" cy="641" r="4.0"/><circle cx="103" cy="658" r="4.0"/><circle cx="107" cy="684" r="4.0"/><circle cx="104" cy="692" r="4.0"/><circle cx="119" cy="680" r="4.0"/><circle cx="128" cy="680" r="4.0"/></g>
<g fill="#00ffff" shape-rendering="crispEdges"><circle cx="104" cy="592" r="4.0"/><circle cx="104" cy="620" r="4.0"/><circle cx="119" cy="620" r="4.0"/><circle cx="127" cy="620" r="4.0"/><circle cx="131" cy="620" r="4.0"/><circle cx="140" cy="620" r="4.0"/><circle cx="153" cy="620" r="4.0"/><circle cx="105" cy="651" r="4.0"/><circle cx="104" cy="658" r="4.0"/><circle cx="104" cy="663" r="4.0"/><circle cx="107" cy="688" r="4.0"/><circle cx="109" cy="695" r="4.0"/><circle cx="119" cy="684" r="4.0"/><circle cx="128" cy="684" r="4.0"/></g>
<g fill="#a8a000" shape-rendering="crispEdges"><circle cx="277" cy="593" r="4.0"/><circle cx="274" cy="658" r="4.0"/><circle cx="250" cy="672" r="4.0"/><circle cx="261" cy="672" r="4.0"/><circle cx="256" cy="678" r="4.0"/><circle cx="277" cy="672" r="4.0"/><circle cx="279" cy="679" r="4.0"/><circle cx="304" cy="672" r="4.0"/><circle cx="302" cy="690" r="4.0"/><circle cx="254" cy="693" r="4.0"/><circle cx="269" cy="695" r="4.0"/><circle cx="279" cy="700" r="4.0"/><circle cx="289" cy="695" r="4.0"/></g>
<g fill="#00ffff" shape-rendering="crispEdges"><circle cx="250" cy="676" r="4.0"/><circle cx="261" cy="676" r="4.0"/><circle cx="256" cy="682" r="4.0"/><circle cx="274" cy="671" r="4.0"/><circle cx="274" cy="675" r="4.0"/><circle cx="278" cy="682" r="4.0"/><circle cx="304" cy="676" r="4.0"/><circle cx="302" cy="693" r="4.0"/><circle cx="253" cy="695" r="4.0"/><circle cx="257" cy="692" r="4.0"/><circle cx="269" cy="698" r="4.0"/><circle cx="279" cy="696" r="4.0"/><circle cx="289" cy="698" r="4.0"/></g>
<g fill="#a8a000" shape-rendering="crispEdges"><circle cx="398" cy="594" r="4.0"/><circle cx="401" cy="594" r="4.0"/><circle cx="408" cy="594" r="4.0"/><circle cx="390" cy="603" r="4.0"/><circle cx="419" cy="637" r="4.0"/><circle cx="434" cy="637" r="4.0"/><circle cx="428" cy="659" r="4.0"/><circle cx="444" cy="659" r="4.0"/><circle cx="469" cy="659" r="4.0"/><circle cx="458" cy="673" r="4.0"/><circle cx="385" cy="672" r="4.0"/><circle cx="412" cy="672" r="4.0"/><circle cx="433" cy="685" r="4.0"/><circle cx="399" cy="696" r="4.0"/><circle cx="414" cy="696" r="4.0"/><circle cx="426" cy="698" r="4.0"/></g>
<g fill="#00ffff" shape-rendering="crispEdges"><circle cx="398" cy="590" r="4.0"/><circle cx="401" cy="590" r="4.0"/><circle cx="408" cy="590" r="4.0"/><circle cx="419" cy="590" r="4.0"/><circle cx="434" cy="590" r="4.0"/><circle cx="390" cy="611" r="4.0"/><circle cx="385" cy="678" r="4.0"/><circle cx="412" cy="678" r="4.0"/><circle cx="428" cy="678" r="4.0"/><circle cx="433" cy="689" r="4.0"/><circle cx="399" cy="699" r="4.0"/><circle cx="414" cy="700" r="4.0"/><circle cx="426" cy="702" r="4.0"/></g>
<g fill="#a8a000" shape-rendering="crispEdges"><circle cx="523" cy="699" r="4.0"/><circle cx="524" cy="658" r="4.0"/><circle cx="536" cy="673" r="4.0"/><circle cx="541" cy="658" r="4.0"/><circle cx="558" cy="658" r="4.0"/><circle cx="564" cy="637" r="4.0"/><circle cx="576" cy="637" r="4.0"/><circle cx="592" cy="701" r="4.0"/><circle cx="602" cy="673" r="4.0"/><circle cx="658" cy="658" r="4.0"/><circle cx="662" cy="658" r="4.0"/><circle cx="671" cy="658" r="4.0"/><circle cx="683" cy="658" r="4.0"/><circle cx="690" cy="658" r="4.0"/><circle cx="704" cy="658" r="4.0"/><circle cx="708" cy="658" r="4.0"/><circle cx="721" cy="658" r="4.0"/><circle cx="739" cy="656" r="4.0"/></g>
<path d="M86.5 146.1H755.2" stroke="#000" stroke-width="1.6" stroke-dasharray="3 3" fill="none" stroke-dashoffset="0.55"/>
<path d="M86.5 294.1H755.2" stroke="#000" stroke-width="1.6" stroke-dasharray="3 3" fill="none" stroke-dashoffset="0.55"/>
<path d="M86.5 461.15H755.2" stroke="#000" stroke-width="1.6" stroke-dasharray="3 3" fill="none" stroke-dashoffset="0.55"/>
<path d="M86.5 658.1H755.2" stroke="#000" stroke-width="1.6" stroke-dasharray="3 3" fill="none" stroke-dashoffset="0.55"/>
<path d="M417.3 43.5V210.35" stroke="#000" stroke-width="1.6" stroke-dasharray="3 3" fill="none" stroke-dashoffset="3.55"/>
<path d="M417.3 210.35V377.7" stroke="#000" stroke-width="1.6" stroke-dasharray="3 3" fill="none" stroke-dashoffset="3.05"/>
<path d="M417.3 377.7V544.6" stroke="#000" stroke-width="1.6" stroke-dasharray="3 3" fill="none" stroke-dashoffset="3.7"/>
<path d="M417.3 544.6V712.3" stroke="#000" stroke-width="1.6" stroke-dasharray="3 3" fill="none" stroke-dashoffset="2.9"/>
<text class="s" font-size="21.2" y="33.7" stroke="#000" stroke-width="0.4"><tspan x="90.25" textLength="47.95" lengthAdjust="spacingAndGlyphs">2016</tspan></text>
<text class="s" font-size="21.2" y="33.7" stroke="#000" stroke-width="0.4"><tspan x="241.75" textLength="48.12" lengthAdjust="spacingAndGlyphs">2017</tspan></text>
<text class="s" font-size="21.2" y="33.7" stroke="#000" stroke-width="0.4"><tspan x="393.25" textLength="47.84" lengthAdjust="spacingAndGlyphs">2018</tspan></text>
<text class="s" font-size="21.2" y="33.7" stroke="#000" stroke-width="0.4"><tspan x="544.75" textLength="47.95" lengthAdjust="spacingAndGlyphs">2019</tspan></text>
<text class="s" font-size="21.2" y="33.7" stroke="#000" stroke-width="0.4"><tspan x="696.25" textLength="48.06" lengthAdjust="spacingAndGlyphs">2020</tspan></text>
<text class="s" font-size="21.2" y="736.5" stroke="#000" stroke-width="0.4"><tspan x="90.25" textLength="47.95" lengthAdjust="spacingAndGlyphs">2016</tspan></text>
<text class="s" font-size="21.2" y="736.5" stroke="#000" stroke-width="0.4"><tspan x="241.75" textLength="48.12" lengthAdjust="spacingAndGlyphs">2017</tspan></text>
<text class="s" font-size="21.2" y="736.5" stroke="#000" stroke-width="0.4"><tspan x="393.25" textLength="47.84" lengthAdjust="spacingAndGlyphs">2018</tspan></text>
<text class="s" font-size="21.2" y="736.5" stroke="#000" stroke-width="0.4"><tspan x="544.75" textLength="47.95" lengthAdjust="spacingAndGlyphs">2019</tspan></text>
<text class="s" font-size="21.2" y="736.5" stroke="#000" stroke-width="0.4"><tspan x="696.25" textLength="48.06" lengthAdjust="spacingAndGlyphs">2020</tspan></text>
<text class="s" font-size="20.8" y="94.9" stroke="#000" stroke-width="0.4"><tspan x="64.51" textLength="11.85" lengthAdjust="spacingAndGlyphs">8</tspan></text>
<text class="s" font-size="20.8" y="144.2" stroke="#000" stroke-width="0.4"><tspan x="64.27" textLength="12.39" lengthAdjust="spacingAndGlyphs">7</tspan></text>
<text class="s" font-size="20.8" y="193.5" stroke="#000" stroke-width="0.4"><tspan x="64.39" textLength="12.08" lengthAdjust="spacingAndGlyphs">6</tspan></text>
<text class="s" font-size="20.8" y="245.4" stroke="#000" stroke-width="0.4"><tspan x="64.45" textLength="12.08" lengthAdjust="spacingAndGlyphs">2</tspan></text>
<text class="s" font-size="20.8" y="301.5" stroke="#000" stroke-width="0.4"><tspan x="64.33" textLength="12.27" lengthAdjust="spacingAndGlyphs">0</tspan></text>
<text class="s" font-size="20.8" y="357.6" stroke="#000" stroke-width="0.4"><tspan x="50.24" textLength="26.31" lengthAdjust="spacingAndGlyphs">−2</tspan></text>
<text class="s" font-size="20.8" y="412.6" stroke="#000" stroke-width="0.4"><tspan x="64.45" textLength="12.08" lengthAdjust="spacingAndGlyphs">2</tspan></text>
<text class="s" font-size="20.8" y="468.7" stroke="#000" stroke-width="0.4"><tspan x="64.33" textLength="12.27" lengthAdjust="spacingAndGlyphs">0</tspan></text>
<text class="s" font-size="20.8" y="524.8" stroke="#000" stroke-width="0.4"><tspan x="50.24" textLength="26.31" lengthAdjust="spacingAndGlyphs">−2</tspan></text>
<text class="s" font-size="20.8" y="608.45" stroke="#000" stroke-width="0.4"><tspan x="64.45" textLength="12.08" lengthAdjust="spacingAndGlyphs">2</tspan></text>
<text class="s" font-size="20.8" y="665.3" stroke="#000" stroke-width="0.4"><tspan x="66.31" textLength="7.24" lengthAdjust="spacingAndGlyphs">1</tspan></text>
<text class="s" font-size="20" transform="translate(50.67 0) rotate(-90)" stroke="#000" stroke-width="0.45"><tspan x="-194.2" textLength="84.49" lengthAdjust="spacingAndGlyphs">distance</tspan> <tspan x="-100.7" textLength="41.7" lengthAdjust="spacingAndGlyphs">[au]</tspan></text>
<text class="s" font-size="20" transform="translate(35.67 0) rotate(-90)" stroke="#000" stroke-width="0.45"><tspan x="-360.36" textLength="40.56" lengthAdjust="spacingAndGlyphs">O−C</tspan> <tspan x="-310.03" textLength="81.79" lengthAdjust="spacingAndGlyphs">[arcsec]</tspan></text>
<text class="s" font-size="20" transform="translate(35.67 0) rotate(-90)" stroke="#000" stroke-width="0.45"><tspan x="-527.56" textLength="40.56" lengthAdjust="spacingAndGlyphs">O−C</tspan> <tspan x="-477.23" textLength="81.79" lengthAdjust="spacingAndGlyphs">[arcsec]</tspan></text>
<text class="s" font-size="20" transform="translate(50.98 0) rotate(-90)" stroke="#000" stroke-width="0.45"><tspan x="-664.83" textLength="74.1" lengthAdjust="spacingAndGlyphs">weights</tspan></text>
<text class="r" font-size="19.7" y="67.2" stroke="#000" stroke-width="1.2"><tspan x="283.41" textLength="41.76" lengthAdjust="spacingAndGlyphs">2.18</tspan>  <tspan x="344.63" textLength="19.84" lengthAdjust="spacingAndGlyphs">yr</tspan></text>
<text class="r" font-size="19.7" y="88.9" stroke="#000" stroke-width="1.2"><tspan x="285.06" textLength="32.69" lengthAdjust="spacingAndGlyphs">171</tspan> <tspan x="329.03" textLength="39.17" lengthAdjust="spacingAndGlyphs">obs.</tspan></text>
<text class="r" font-size="19.7" y="108.9" stroke="#000" stroke-width="1.2"><tspan x="284.92" textLength="36.5" lengthAdjust="spacingAndGlyphs">1a+</tspan></text>
<text class="r" font-size="19.7" y="67.2" stroke="#000" stroke-width="1.2"><tspan x="466.25" textLength="41.28" lengthAdjust="spacingAndGlyphs">4.19</tspan>  <tspan x="526.33" textLength="19.74" lengthAdjust="spacingAndGlyphs">yr</tspan></text>
<text class="r" font-size="19.7" y="88.8" stroke="#000" stroke-width="1.2"><tspan x="465.72" textLength="35.31" lengthAdjust="spacingAndGlyphs">227</tspan> <tspan x="511.03" textLength="39.28" lengthAdjust="spacingAndGlyphs">obs.</tspan></text>
<text class="r" font-size="19.7" y="108.9" stroke="#000" stroke-width="1.2"><tspan x="467.24" textLength="36.08" lengthAdjust="spacingAndGlyphs">1a+</tspan></text>
<text class="r" font-size="20.4" y="196.2" stroke="#000" stroke-width="1.2"><tspan x="480" textLength="12.57" lengthAdjust="spacingAndGlyphs">C</tspan><tspan x="493.16" y="199.86" font-size="28.51" stroke-width="0.5" textLength="11.4" lengthAdjust="spacingAndGlyphs">/</tspan><tspan x="505.69" y="196.2" textLength="46.65" lengthAdjust="spacingAndGlyphs">2015</tspan> <tspan x="562.03" textLength="22.96" lengthAdjust="spacingAndGlyphs">X5</tspan> <tspan x="596.04" textLength="109.77" lengthAdjust="spacingAndGlyphs">PANSTARRS</tspan></text>
<text class="r" font-size="20.4" y="360.8" stroke="#000" stroke-width="1.2"><tspan x="277" textLength="12.57" lengthAdjust="spacingAndGlyphs">C</tspan><tspan x="290.16" y="364.46" font-size="28.51" stroke-width="0.5" textLength="11.4" lengthAdjust="spacingAndGlyphs">/</tspan><tspan x="302.69" y="360.8" textLength="46.65" lengthAdjust="spacingAndGlyphs">2015</tspan> <tspan x="359.03" textLength="22.96" lengthAdjust="spacingAndGlyphs">X5</tspan> <tspan x="393.04" textLength="109.77" lengthAdjust="spacingAndGlyphs">PANSTARRS</tspan> <tspan x="513.25" textLength="38.39" lengthAdjust="spacingAndGlyphs">(GR,</tspan> <tspan x="563.15" textLength="27.78" lengthAdjust="spacingAndGlyphs">b5,</tspan> <tspan x="601.9" textLength="94.74" lengthAdjust="spacingAndGlyphs">weighted)</tspan></text>
<text class="r" font-size="20.4" y="527.6" stroke="#000" stroke-width="1.2"><tspan x="277" textLength="12.57" lengthAdjust="spacingAndGlyphs">C</tspan><tspan x="290.16" y="531.26" font-size="28.51" stroke-width="0.5" textLength="11.4" lengthAdjust="spacingAndGlyphs">/</tspan><tspan x="302.69" y="527.6" textLength="46.65" lengthAdjust="spacingAndGlyphs">2015</tspan> <tspan x="359.03" textLength="22.96" lengthAdjust="spacingAndGlyphs">X5</tspan> <tspan x="393.04" textLength="109.77" lengthAdjust="spacingAndGlyphs">PANSTARRS</tspan> <tspan x="513.25" textLength="38.39" lengthAdjust="spacingAndGlyphs">(GR,</tspan> <tspan x="562.37" textLength="28.6" lengthAdjust="spacingAndGlyphs">a5,</tspan> <tspan x="601.9" textLength="94.74" lengthAdjust="spacingAndGlyphs">weighted)</tspan></text>
<text class="l" font-size="20.6" y="579.9" fill="#00ffff" stroke="#00ffff" stroke-width="0.6"><tspan x="580.3" textLength="27.35" lengthAdjust="spacingAndGlyphs">GR</tspan> <tspan x="619.36" textLength="24.88" lengthAdjust="spacingAndGlyphs">a5</tspan></text>
<text class="l" font-size="20.6" y="608.6" fill="#a8a000" stroke="#a8a000" stroke-width="0.6"><tspan x="580.3" textLength="27.35" lengthAdjust="spacingAndGlyphs">GR</tspan> <tspan x="620.25" textLength="23.96" lengthAdjust="spacingAndGlyphs">b5</tspan></text>
<text class="s" font-size="20.2" y="761" stroke="#000" stroke-width="0.4"><tspan x="361.08" y="760.75" stroke-width="0.9" textLength="13.08" lengthAdjust="spacingAndGlyphs">D</tspan> <tspan x="383.86" y="760.75" stroke-width="0.9" textLength="9.83" lengthAdjust="spacingAndGlyphs">a</tspan> <tspan x="406.11" y="760.75" stroke-width="0.9" textLength="7.09" lengthAdjust="spacingAndGlyphs">t</tspan> <tspan x="423.14" y="760.75" stroke-width="0.9" textLength="11.19" lengthAdjust="spacingAndGlyphs">e</tspan> <tspan x="442.81" y="761" textLength="38.91" lengthAdjust="spacingAndGlyphs">[yr]</tspan></text>
</svg></body></html>
